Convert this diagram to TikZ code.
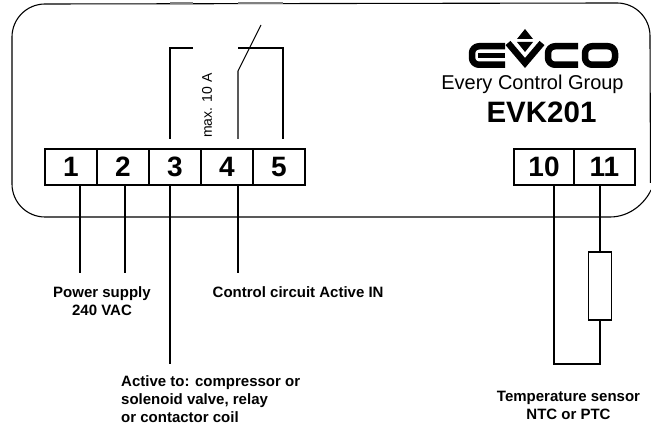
\documentclass[tikz,border=0pt]{standalone}
\usepackage{fontspec}
\setmainfont{Liberation Sans}
\tikzset{
  wire/.style={line width=1.05pt},
  terminal/.style={draw,line width=1.2pt,minimum width=52pt,minimum height=36pt,inner sep=0pt,font=\bfseries\fontsize{28}{28}\selectfont},
  caption/.style={font=\bfseries\fontsize{15}{18}\selectfont,inner sep=0pt},
  logoline/.style={line width=6.5pt,line join=round}
}
\begin{document}
\begin{tikzpicture}[x=1pt,y=-1pt]
\useasboundingbox (0,0) rectangle (651,427);
% housing
\draw [line width=1.1pt] (651,190) .. controls (645,203) and (630,217) .. (610,217) -- (45,217)
	arc (90:180:33) -- (12,37) arc (180:270:33) -- (617,3) arc (270:360:33) -- (650.5,183);
\draw [line width=1.3pt,gray] (170,3) -- (193,3);
\draw [line width=1.3pt,gray] (238,3) -- (283,3);
% terminals
\node (t1) [terminal] at (71,167) {1};
\node (t2) [terminal] at (123,167) {2};
\node (t3) [terminal] at (175,167) {3};
\node (t4) [terminal] at (227,167) {4};
\node (t5) [terminal] at (279,167) {5};
\node (t10) [terminal,minimum width=60pt] at (544,167) {10};
\node (t11) [terminal,minimum width=61pt] at (604.5,167) {11};
% wires below the terminals
\coordinate (a1) at (80,185);
\coordinate (a2) at (125,185);
\coordinate (a3) at (170,185);
\coordinate (a4) at (238,185);
\coordinate (a10) at (554,185);
\coordinate (a11) at (600,185);
\coordinate (b1) at (80,273);
\coordinate (b2) at (125,273);
\coordinate (b3) at (170,364);
\coordinate (b4) at (238,273);
\draw [wire] (a1) -- (b1);
\draw [wire] (a2) -- (b2);
\draw [wire] (a3) -- (b3);
\draw [wire] (a4) -- (b4);
% relay contact
\coordinate (c3) at (170,139);
\coordinate (c4) at (238,139);
\coordinate (c5) at (283,139);
\coordinate (sw) at (238,71);
\coordinate (swtip) at (261,25);
\draw [wire] (c3) |- (193,48);
\draw [wire] (238,48) -| (c5);
\draw [wire] (c4) -- (sw) -- (swtip);
\node (maxamp) [rotate=90,anchor=west,inner sep=0pt,font=\fontsize{14}{14}\selectfont] at (207,138) {max. 10 A};
% sensor
\node (res) [draw,line width=1.1pt,minimum width=23pt,minimum height=68pt,inner sep=0pt] at (600,286) {};
\coordinate (d10) at (554,364);
\draw [wire] (a11) -- (res.north);
\draw [wire] (a10) -- (d10) -| (res.south);
% logo
\fill (525,29) -- (533,39) -- (517,39) -- cycle;
\fill (517,42) -- (533,42) -- (525,52) -- cycle;
\draw [logoline,rounded corners=7pt] (505,46.25) -- (472,46.25) -- (472,64.75) -- (505,64.75);
\draw [line width=5pt] (478,55.5) -- (505,55.5);
\draw [logoline,miter limit=10,line join=miter] (508,43) -- (525,63) -- (542,43);
\draw [logoline,rounded corners=7pt] (578,46.25) -- (548,46.25) -- (548,64.75) -- (578,64.75);
\draw [logoline,rounded corners=7pt] (585,46.25) rectangle (615,64.75);
% texts
\node (group) [inner sep=0pt,font=\fontsize{20}{20}\selectfont] at (532.5,84) {Every Control Group};
\node (model) [inner sep=0pt,font=\bfseries\fontsize{29.5}{29.5}\selectfont] at (541.5,112) {EVK201};
\node (power) [caption,align=center] at (102,301) {Power supply\\240 VAC};
\node (ctrl) [caption,anchor=west] at (212.5,292) {Control circuit Active IN};
\node (active) [caption,align=left,anchor=north west] at (121,375.5) {Active to: compressor or\\solenoid valve, relay\\or contactor coil};
\node (sensor) [caption,align=center] at (568.5,405) {Temperature sensor\\NTC or PTC};
\end{tikzpicture}
\end{document}
